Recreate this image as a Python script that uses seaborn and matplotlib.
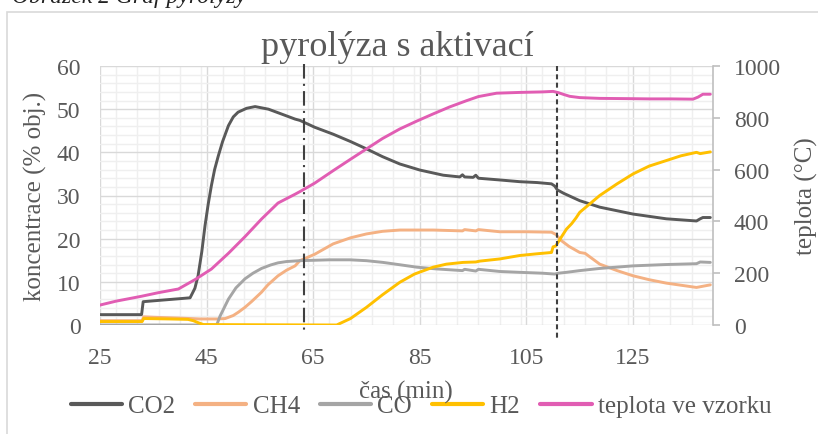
import numpy as np
import pandas as pd
import matplotlib
matplotlib.use("Agg")
import matplotlib.pyplot as plt
import seaborn as sns
from matplotlib.patches import Rectangle
from matplotlib.ticker import MultipleLocator

# ---------------- data ----------------
co2_t = [25, 32.8, 33.1, 36, 40, 41.9, 42.8, 43.4, 44.1, 44.7, 45.3, 45.9, 46.5, 47.2, 48, 49.1,
         50, 50.9, 52.5, 54.1, 56.6, 59, 61.6, 62.5, 65.3, 68.75, 72, 75, 78, 81.25, 85, 89.4,
         92.5, 93, 93.4, 95, 95.5, 96, 100, 103.75, 107, 109.7, 110.3, 110.8, 112, 115, 118.75,
         125, 131.25, 136.9, 137.6, 138.1, 139.5]
co2_v = [2.4, 2.4, 5.4, 5.7, 6.1, 6.3, 8.5, 11.4, 17, 23, 28, 32.3, 36, 39.2, 42.5, 46.2,
         48.2, 49.3, 50.2, 50.6, 50.0, 48.9, 47.7, 47.4, 45.8, 44.2, 42.5, 40.8, 39.0, 37.3, 35.9, 34.7,
         34.3, 34.8, 34.3, 34.2, 34.7, 34.0, 33.6, 33.2, 33.0, 32.7, 32.2, 31.3, 30.5, 28.8, 27.3,
         25.7, 24.6, 24.1, 24.6, 24.9, 24.9]

ch4_t = [25, 32.9, 33.2, 35, 40, 43.75, 47, 48.5, 50, 51, 52.2, 53.5, 55.3, 56.5, 58.4, 60, 61.6,
         62.5, 65.3, 68.75, 72, 75, 78, 81.25, 87.5, 93, 93.4, 95.5, 96, 100, 105, 109.7, 110.5,
         111.6, 113, 115, 116, 118.75, 122, 125, 128, 131.25, 136.9, 139.5]
ch4_v = [1.0, 1.0, 1.9, 1.8, 1.6, 1.4, 1.4, 1.5, 2.2, 3.0, 4.1, 5.5, 7.6, 9.3, 11.4, 12.7, 13.7,
         14.9, 16.4, 18.8, 20.2, 21.1, 21.7, 22.0, 22.0, 21.8, 22.1, 21.8, 22.1, 21.6, 21.6, 21.5, 21.0,
         19.5, 18.2, 16.8, 16.6, 14.1, 12.6, 11.4, 10.5, 9.7, 8.7, 9.3]

co_t = [25, 46.9, 47.5, 48.3, 49.1, 50.5, 52.2, 53.7, 55.3, 57, 58.4, 60, 62.5, 65.3, 68, 71.9,
        75, 78.1, 81, 84.4, 88, 93, 93.4, 95.5, 96, 100, 103.75, 108, 110.3, 111, 112.5, 115,
        118.75, 125, 131, 136.9, 137.6, 139.5]
co_v = [0, 0, 2.0, 4.0, 6.0, 8.6, 10.7, 12.0, 13.1, 13.9, 14.4, 14.7, 14.9, 15.0, 15.1, 15.1,
        14.9, 14.5, 14.0, 13.4, 13.0, 12.6, 12.9, 12.5, 12.9, 12.4, 12.2, 12.0, 11.8, 12.0, 12.2, 12.6,
        13.1, 13.7, 14.0, 14.2, 14.6, 14.5]

h2_t = [25, 32.9, 33.2, 38, 41.5, 42.5, 43.5, 44.4, 69.4, 72, 75, 78, 81.25, 84, 87.5, 90, 93.1,
        95.5, 96.25, 100, 103.75, 107, 109.7, 110, 110.5, 111.1, 112.5, 113.5, 114.3, 115, 118.75,
        122, 125, 128, 131.25, 134, 136.9, 137.6, 139.5]
h2_v = [0.8, 0.8, 1.5, 1.4, 1.3, 1.0, 0.5, 0.1, 0.0, 1.5, 4.1, 7.0, 9.9, 11.8, 13.4, 14.1, 14.5,
        14.6, 14.8, 15.3, 16.1, 16.5, 16.8, 18.1, 18.3, 19.5, 22.2, 23.5, 24.8, 26.1, 30.0,
        32.7, 35.0, 36.8, 38.1, 39.2, 40.0, 39.7, 40.1]

temp_t = [25, 28, 32.8, 36, 39.7, 42.8, 45.9, 49.1, 52.2, 55.3, 58.4, 61.6, 62.5, 65.3, 68.75, 72,
          75, 78, 81.25, 84.4, 87.5, 90.6, 93.75, 96, 99.4, 103.75, 108, 110, 111, 112, 113.1, 115,
          118.75, 124, 128.1, 132, 136.25, 137.2, 138.1, 139.5]
temp_v = [77, 92, 111, 125, 139, 175, 216, 277, 341, 409, 471, 505, 515, 548, 596, 640,
          680, 720, 757, 787, 815, 842, 866, 882, 895, 898, 900, 902, 897, 890, 883, 878,
          875, 874, 873, 873, 872, 880, 891, 891]

series_names = ["CO2", "CH4", "CO", "H2", "teplota ve vzorku"]
series_colors = ["#595959", "#F4B183", "#A5A5A5", "#FFC000", "#E15DB3"]

phase_times = [63.2, 110.8]

x_ticks = [25, 45, 65, 85, 105, 125]
title = "pyrolýza s aktivací"
xlabel = "čas (min)"
ylabel_left = "koncentrace (% obj.)"
ylabel_right = "teplota (°C)"
caption = "Obrázek 2 Graf pyrolýzy"

# ---------------- styling ----------------
sns.set_theme(style="white")
plt.rcParams["font.family"] = ["Liberation Serif", "DejaVu Serif"]
TXT = "#595959"
FS = 17
FL = 18

W, H = 818, 435
fig = plt.figure(figsize=(W / 100, H / 100), dpi=100)
ax = fig.add_axes([100 / W, 1 - 326 / H, 613 / W, 259 / H])
ax.set_facecolor("white")

handles = []
gas = [(co2_t, co2_v), (ch4_t, ch4_v), (co_t, co_v), (h2_t, h2_v)]
for (tt, vv), name, col in zip(gas, series_names[:4], series_colors[:4]):
    df = pd.DataFrame({"t": tt, "v": vv})
    sns.lineplot(data=df, x="t", y="v", ax=ax, color=col, lw=2.1, estimator=None,
                 sort=False, legend=False)
    ln = ax.lines[-1]
    ln.set_solid_capstyle("round")
    handles.append(ln)

ax.set_xlim(25, 140)
ax.set_ylim(0, 60)
ax.xaxis.set_major_locator(MultipleLocator(20))
ax.xaxis.set_minor_locator(MultipleLocator(4))
ax.yaxis.set_major_locator(MultipleLocator(10))
ax.yaxis.set_minor_locator(MultipleLocator(2))
ax.set_xticks(x_ticks)
ax.grid(which="major", color="#D9D9D9", lw=1.0)
ax.grid(which="minor", color="#EFEFEF", lw=1.0)
ax.set_axisbelow(True)
for s in ax.spines.values():
    s.set_visible(False)
ax.tick_params(axis="both", which="both", length=0, labelsize=FS, labelcolor=TXT)
ax.tick_params(axis="y", pad=14)
ax.tick_params(axis="x", pad=16)
ax.set_xlabel("")
ax.set_ylabel("")

ax2 = ax.twinx()
dft = pd.DataFrame({"t": temp_t, "v": temp_v})
sns.lineplot(data=dft, x="t", y="v", ax=ax2, color=series_colors[4], lw=2.1,
             estimator=None, sort=False, legend=False)
handles.append(ax2.lines[-1])
ax2.set_ylim(0, 1000)
ax2.yaxis.set_major_locator(MultipleLocator(200))
ax2.grid(False)
for k, s in ax2.spines.items():
    s.set_visible(k == "right")
ax2.spines["right"].set_color("#BFBFBF")
ax2.spines["right"].set_linewidth(1.2)
ax2.tick_params(axis="y", length=5, width=1.2, color="#BFBFBF", direction="out",
                labelsize=FS, labelcolor=TXT, pad=10)
ax2.set_xlabel("")
ax2.set_ylabel("")

# phase boundary lines
xt = ax.get_xaxis_transform()
ax.plot([phase_times[0]] * 2, [1.008, -0.031], transform=xt, clip_on=False,
        color="#404040", lw=1.5, ls=(0, (7, 2.5, 1, 2.5)), zorder=5)
ax.plot([phase_times[1]] * 2, [1.0, -0.062], transform=xt, clip_on=False,
        color="#404040", lw=1.5, ls=(0, (2.4, 1.6)), zorder=5)

# texts
fig.text(397 / W, 1 - 56 / H, title, ha="center", va="baseline", fontsize=26, color=TXT)
fig.text(35 / W, 1 - 196 / H, ylabel_left, ha="center", va="center", rotation=90,
         fontsize=FL, color=TXT)
fig.text(806 / W, 1 - 196 / H, ylabel_right, ha="center", va="center", rotation=90,
         fontsize=FL, color=TXT)

leg = fig.legend(handles, series_names, loc="center", bbox_to_anchor=(421 / W, 1 - 407 / H),
                 ncol=5, frameon=False, fontsize=FL, handlelength=2.05, handletextpad=0.25,
                 columnspacing=0.8, borderaxespad=0, labelcolor=TXT)
for lh in leg.get_lines():
    lh.set_linewidth(3)

fig.text(406 / W, 1 - 392 / H, xlabel, ha="center", va="center", fontsize=FL, color=TXT,
         zorder=10)
fig.text(12 / W, 1 - 3 / H, caption, ha="left", va="baseline", fontsize=17, style="italic",
         color="#222222")

fig.patches.append(Rectangle((7 / W, -0.1), 1.2, 1 - 13 / H + 0.1, transform=fig.transFigure,
                             fill=False, ec="#D9D9D9", lw=1.2))

fig.savefig("out.png", dpi=100)
